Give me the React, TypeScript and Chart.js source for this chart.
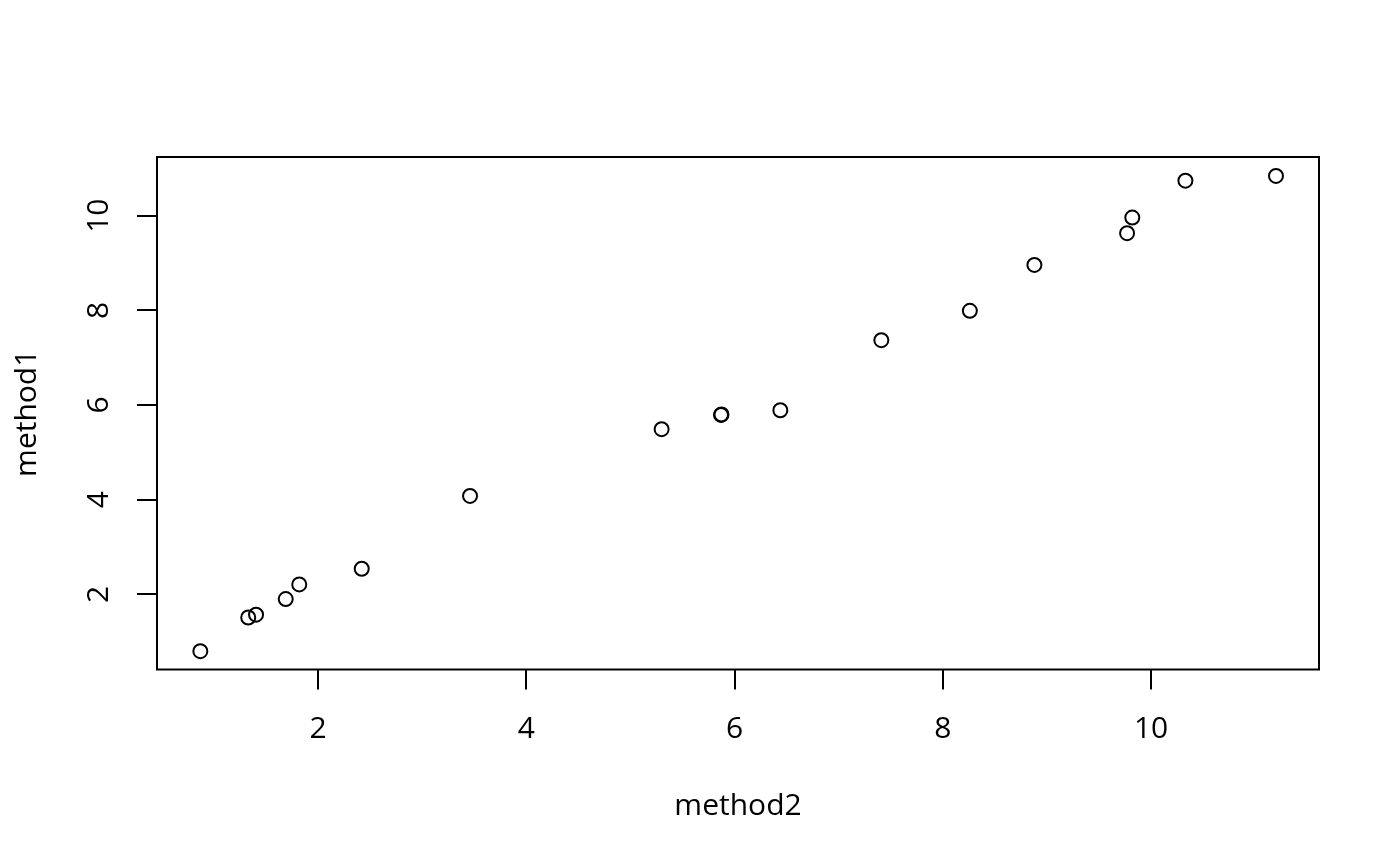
import { useEffect, useRef } from 'react';
import { Chart, registerables } from 'chart.js';

Chart.register(...registerables);

// method2 on the x axis, method1 on the y axis
const method2 = [0.87, 1.33, 1.405, 1.69, 1.82, 2.42, 3.46, 5.30, 5.87, 5.875, 6.44, 7.41, 8.26, 8.88, 9.77, 9.82, 10.33, 11.20];
const method1 = [0.80, 1.51, 1.57, 1.90, 2.21, 2.54, 4.08, 5.49, 5.79, 5.80, 5.89, 7.37, 7.99, 8.96, 9.63, 9.96, 10.74, 10.84];

const xTicks = [2, 4, 6, 8, 10];
const yTicks = [2, 4, 6, 8, 10];

const FONT = { family: '"Open Sans", "Noto Sans", sans-serif', size: 30 };

const boxPlugin = {
  id: 'plotBox',
  afterDatasetsDraw(chart: Chart) {
    const { ctx, chartArea: a } = chart;
    ctx.save();
    ctx.strokeStyle = '#000';
    ctx.lineWidth = 2;
    ctx.strokeRect(a.left, a.top, a.right - a.left, a.bottom - a.top);
    ctx.restore();
  },
};

export default function App() {
  const canvasRef = useRef<HTMLCanvasElement>(null);
  const chartRef = useRef<Chart | null>(null);

  useEffect(() => {
    document.body.style.margin = '0';
    if (!canvasRef.current) return;
    const ctx = canvasRef.current.getContext('2d');
    if (!ctx) return;

    chartRef.current?.destroy();
    chartRef.current = new Chart(ctx, {
      type: 'scatter',
      data: {
        datasets: [{
          data: method2.map((x, i) => ({ x, y: method1[i] })),
          pointStyle: 'circle',
          pointRadius: 7,
          pointBorderWidth: 2,
          borderColor: '#000',
          backgroundColor: 'rgba(0,0,0,0)',
          showLine: false,
        }],
      },
      options: {
        animation: false,
        responsive: true,
        maintainAspectRatio: false,
        layout: { padding: { top: 157, right: 81, left: 0, bottom: 0 } },
        plugins: {
          legend: { display: false },
          tooltip: { enabled: false },
        },
        scales: {
          x: {
            type: 'linear',
            min: 0.4538,
            max: 11.613,
            afterBuildTicks: (s: any) => { s.ticks = xTicks.map((v) => ({ value: v })); },
            afterFit: (s: any) => { s.height = 196.5; },
            border: { display: false },
            grid: { drawOnChartArea: false, drawTicks: true, tickLength: 20, color: '#000', lineWidth: 2 },
            ticks: { color: '#000', font: FONT, padding: 22, maxRotation: 0 },
            title: { display: true, text: 'method2', color: '#000', font: FONT, padding: { top: 0, bottom: 42 } },
          },
          y: {
            type: 'linear',
            min: 0.412,
            max: 11.24,
            afterBuildTicks: (s: any) => { s.ticks = yTicks.map((v) => ({ value: v })); },
            afterFit: (s: any) => { s.width = 157; },
            border: { display: false },
            grid: { drawOnChartArea: false, drawTicks: true, tickLength: 20, color: '#000', lineWidth: 2 },
            ticks: { color: '#000', font: FONT, padding: 20, minRotation: 90, maxRotation: 90, crossAlign: 'center' },
            title: { display: true, text: 'method1', color: '#000', font: FONT, padding: { top: 9.5, bottom: 0 } },
          },
        },
      },
      plugins: [boxPlugin],
    });

    return () => { chartRef.current?.destroy(); };
  }, []);

  return (
    <div style={{ position: 'absolute', left: 0, top: 0, width: 1400, height: 866, background: '#fff' }}>
      <canvas ref={canvasRef} />
    </div>
  );
}
